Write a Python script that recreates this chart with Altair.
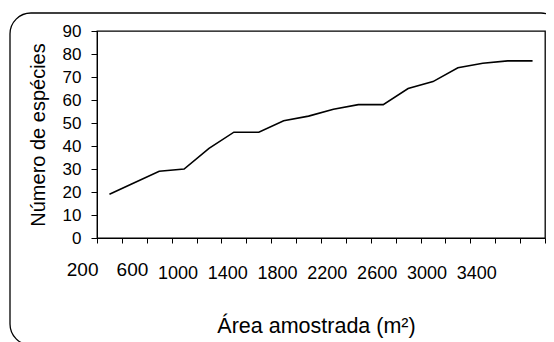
import altair as alt
import pandas as pd

# Sampled area (m2) per cumulative plot and cumulative species count
area = [200, 400, 600, 800, 1000, 1200, 1400, 1600, 1800,
        2000, 2200, 2400, 2600, 2800, 3000, 3200, 3400, 3600]
species = [19, 24, 29, 30, 39, 46, 46, 51, 53,
           56, 58, 58, 65, 68, 74, 76, 77, 77]

y_ticks = [0, 10, 20, 30, 40, 50, 60, 70, 80, 90]
x_labels = [200, 600, 1000, 1400, 1800, 2200, 2600, 3000, 3400]
# category boundaries (ticks sit between categories)
x_ticks = [a - 100 for a in area] + [area[-1] + 100]

df = pd.DataFrame({"area": area, "species": species})

FONT = "Liberation Sans"
label_list = ",".join(str(v) for v in x_labels)
label_expr = (
    f"indexof([{label_list}], datum.value + 100) >= 0 ? "
    "format(datum.value + 100, 'd') : ''"
)

line = alt.Chart(df).mark_line(color="black", strokeWidth=1.6).encode(
    x=alt.X(
        "area:Q",
        scale=alt.Scale(domain=[x_ticks[0], x_ticks[-1]], nice=False, zero=False),
        axis=alt.Axis(
            values=x_ticks,
            labelExpr=label_expr,
            labelAlign="right",
            labelBaseline="alphabetic",
            labelPadding={"condition": {"test": "datum.value < 700", "value": 32}, "value": 35},
            labelFontSize={"condition": {"test": "datum.value < 700", "value": 19}, "value": 18},
            labelFont=FONT,
            labelColor="black",
            labelFlush=False,
            labelOverlap=False,
            labelOffset=1,
            tickSize=5,
            tickColor="black",
            domainColor="black",
            grid=False,
            title="Área amostrada (m²)",
            titleFont=FONT,
            titleFontSize=21.5,
            titleFontWeight="normal",
            titleColor="black",
            titleBaseline="alphabetic",
            titleAlign="center",
            titleX=219,
            titleY=94,
        ),
    ),
    y=alt.Y(
        "species:Q",
        scale=alt.Scale(domain=[0, 90], nice=False),
        axis=alt.Axis(
            values=y_ticks,
            labelPadding=10,
            labelFontSize=17,
            labelFont=FONT,
            labelColor="black",
            labelFlush=False,
            tickSize=6,
            tickColor="black",
            domainColor="black",
            grid=False,
            title="Número de espécies",
            titleFont=FONT,
            titleFontSize=20,
            titleFontWeight="normal",
            titleColor="black",
            titleAngle=270,
            titleBaseline="alphabetic",
            titleAlign="center",
            titleX=-53,
            titleY=103.5,
        ),
    ),
)

frame = alt.Chart(pd.DataFrame({"f": [0]})).mark_rect(
    filled=False, stroke="black", strokeWidth=1.3, cornerRadius=21
).encode(
    x=alt.value(-87), x2=alt.value(465), y=alt.value(-18), y2=alt.value(314)
)

chart = alt.layer(frame, line).properties(
    width=448,
    height=207,
    padding={"left": 89, "top": 23, "right": 1, "bottom": 104},
    autosize=alt.AutoSizeParams(type="none"),
    background="white",
).configure_view(stroke="black", strokeWidth=1.3)

chart.save("out.html", embed_options={"renderer": "svg", "actions": False})
